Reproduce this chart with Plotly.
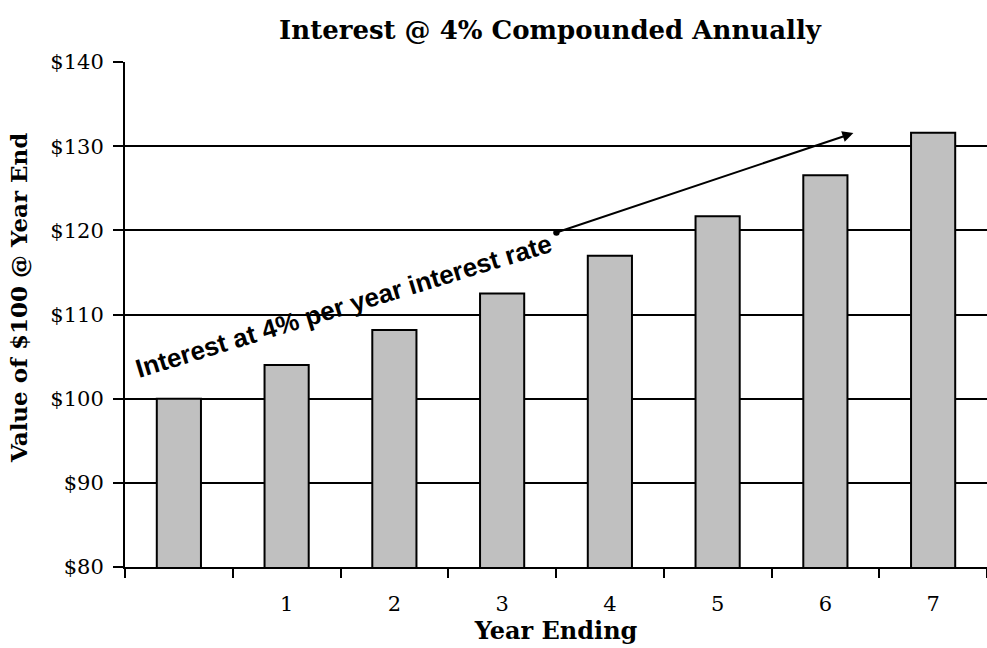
import plotly.graph_objects as go

# Value of $100 at the end of each year, 4% compounded annually
years = [0, 1, 2, 3, 4, 5, 6, 7]
values = [100.00, 104.00, 108.16, 112.49, 116.99, 121.67, 126.53, 131.59]
tick_years = [1, 2, 3, 4, 5, 6, 7]
tick_labels = ["1", "2", "3", "4", "5", "6", "7"]
y_ticks = [80, 90, 100, 110, 120, 130, 140]
y_tick_labels = ["$80", "$90", "$100", "$110", "$120", "$130", "$140"]

serif = "DejaVu Serif"
W, H = 987, 648
M_L, M_R, M_T, M_B = 125, 0, 62, 81
plot_w = W - M_L - M_R
plot_h = H - M_T - M_B

fig = go.Figure(
    go.Bar(
        x=years,
        y=values,
        width=0.41,
        marker=dict(color="#C0C0C0", line=dict(color="black", width=2)),
        hoverinfo="x+y",
    )
)

fig.update_layout(
    width=W,
    height=H,
    margin=dict(l=M_L, r=M_R, t=M_T, b=M_B),
    paper_bgcolor="white",
    plot_bgcolor="white",
    showlegend=False,
    title=dict(
        text="<b>Interest @ 4% Compounded Annually</b>",
        font=dict(family=serif, size=26, color="black"),
        x=550 / W,
        xanchor="center",
        y=1 - 30 / H,
        yanchor="middle",
        yref="container",
    ),
    font=dict(family=serif, color="black"),
)

fig.update_xaxes(
    range=[-0.5, 7.5],
    tickmode="array",
    tickvals=tick_years,
    ticktext=tick_labels,
    ticks="",
    ticklabelstandoff=17,
    tickfont=dict(family=serif, size=21, color="black"),
    minor=dict(
        tickmode="linear",
        tick0=-0.5,
        dtick=1,
        ticks="outside",
        ticklen=9,
        tickwidth=1.5,
        tickcolor="black",
        showgrid=False,
    ),
    showline=True,
    linecolor="black",
    linewidth=2,
    showgrid=False,
    zeroline=False,
    title=dict(
        text="<b>Year Ending</b>",
        font=dict(family=serif, size=24, color="black"),
        standoff=6,
    ),
)

fig.update_yaxes(
    range=[80, 140],
    tickmode="array",
    tickvals=y_ticks,
    ticktext=y_tick_labels,
    ticks="outside",
    ticklen=10,
    tickwidth=1.5,
    tickcolor="black",
    ticklabelstandoff=5,
    tickfont=dict(family=serif, size=21, color="black"),
    showline=True,
    linecolor="black",
    linewidth=2,
    showgrid=True,
    gridcolor="black",
    gridwidth=1.8,
    zeroline=False,
)

# Vertical axis title
fig.add_annotation(
    x=(18 - M_L) / plot_w,
    y=(H - M_B - 298) / plot_h,
    xref="paper",
    yref="paper",
    text="<b>Value of $100 @ Year End</b>",
    showarrow=False,
    textangle=-90,
    xanchor="center",
    yanchor="middle",
    font=dict(family=serif, size=23, color="black"),
)

# Slanted label and the trend arrow
fig.add_annotation(
    x=1.53,
    y=111.0,
    xref="x",
    yref="y",
    text="<b>Interest at 4% per year interest rate</b>",
    showarrow=False,
    textangle=-17,
    xanchor="center",
    yanchor="middle",
    font=dict(family="Liberation Sans, Arial", size=26, color="black"),
)
fig.add_annotation(
    x=6.26,
    y=131.56,
    ax=3.49,
    ay=119.68,
    xref="x",
    yref="y",
    axref="x",
    ayref="y",
    text="",
    showarrow=True,
    arrowside="end+start",
    arrowhead=2,
    startarrowhead=6,
    arrowsize=1.1,
    startarrowsize=0.8,
    arrowwidth=2,
    arrowcolor="black",
)

fig.write_html("out.html")
